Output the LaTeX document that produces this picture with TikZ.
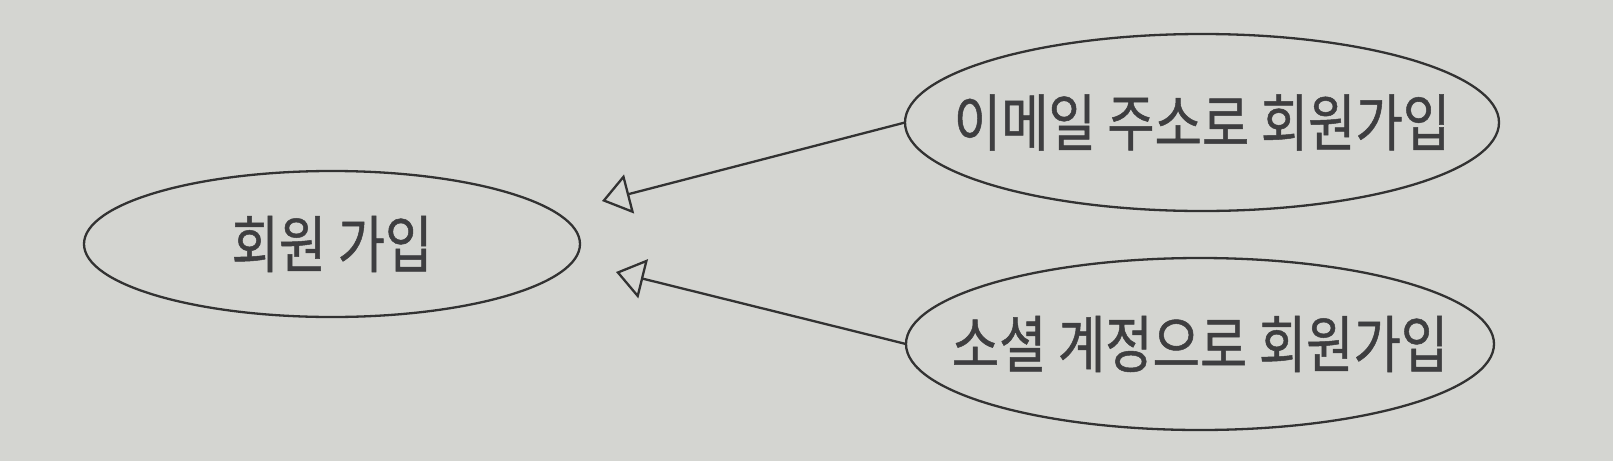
\documentclass[tikz,border=0pt]{standalone}
\usepackage{fontspec}
\newfontfamily\kr[FakeStretch=0.83,FakeBold=0.8]{Noto Sans CJK KR}
\usetikzlibrary{shapes.geometric,arrows.meta}
\definecolor{paper}{RGB}{212,213,209}
\definecolor{ink}{RGB}{50,50,50}
\definecolor{txt}{RGB}{62,62,64}
\newcommand{\uctext}[1]{\makebox[0pt][c]{#1}}
\tikzset{
  usecase/.style={ellipse, draw=ink, line width=2.3pt, inner sep=0pt, outer sep=0pt,
    font=\kr\fontsize{62}{62}\selectfont, text=txt},
  gen/.style={draw=ink, line width=2.3pt, -{Triangle[open, length=28pt, width=40pt]}}
}
\begin{document}
\begin{tikzpicture}[x=1pt,y=-1pt]
\fill[paper] (0,0) rectangle (1613,461);
\useasboundingbox (0,0) rectangle (1613,461);
\node[usecase, minimum width=496pt, minimum height=146pt] (base) at (332,244) {\uctext{회원 가입}};
\node[usecase, minimum width=594pt, minimum height=177pt] (email) at (1202,122.5) {\uctext{이메일 주소로 회원가입}};
\node[usecase, minimum width=588pt, minimum height=172pt] (social) at (1200,344) {\uctext{소셜 계정으로 회원가입}};
\coordinate (t1) at (602,201);
\coordinate (t2) at (616,272);
\draw[gen] (email.west) -- (t1);
\draw[gen] (social.west) -- (t2);
\end{tikzpicture}
\end{document}
